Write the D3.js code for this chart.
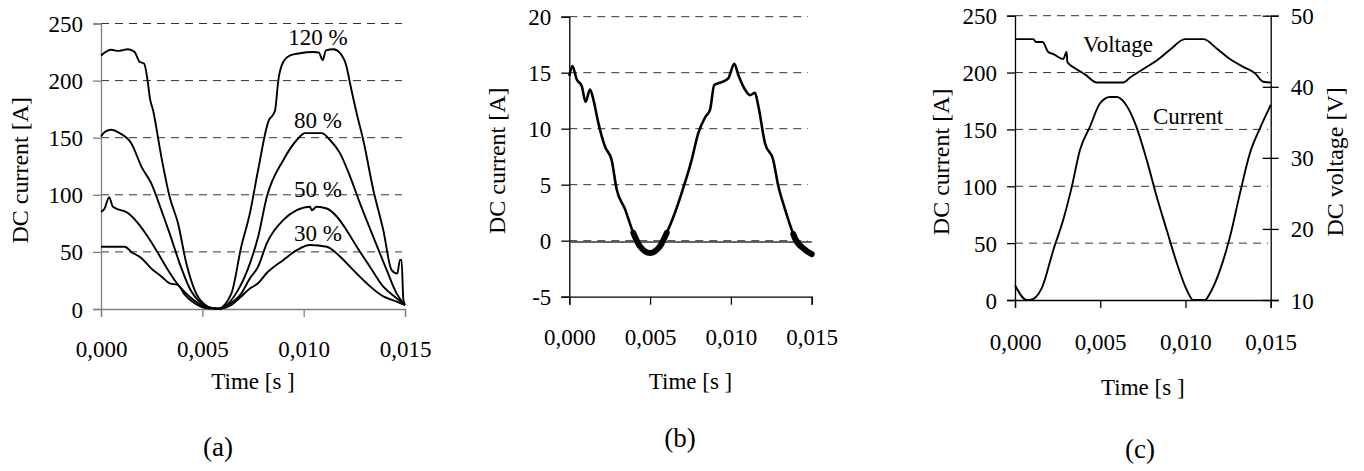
<!DOCTYPE html>
<html>
<head>
<meta charset="utf-8">
<script src="https://cdn.jsdelivr.net/npm/d3@7"></script>
<style>
  body { margin: 0; background: #fff; }
  svg { display: block; }
  text { font-family: "Liberation Serif", "Times New Roman", serif; fill: #000; }
</style>
</head>
<body>
<div id="chart"></div>
<script>
// 数据: [时间 s, 数值]
const xTicks = [0, 0.005, 0.010, 0.015];

// (a) 不同负载下的直流电流
const a120 = [[0,222],[0.00051,227],[0.00084,226],[0.00133,227.5],[0.00166,225],[0.0019,216.5],[0.00212,215],[0.00232,197.5],[0.0024,186],[0.00257,174],[0.00298,133],[0.00339,98],[0.0038,75],[0.00421,40],[0.00462,16.5],[0.00528,2],[0.0056,0.5],[0.00575,0],
  [0.00643,13.5],[0.00692,54.5],[0.00735,84],[0.00775,121.5],[0.0083,166],[0.00845,169],[0.00859,174],[0.00875,200.5],[0.009,216.5],[0.00933,222],[0.00982,224],[0.01048,225],[0.01075,224.5],[0.01094,218],[0.0111,226.5],[0.01147,227.5],[0.0118,224],[0.01212,212],[0.01229,197.5],[0.01262,171],[0.01294,148],[0.01344,104],[0.01393,69],[0.01434,34],[0.01462,31],[0.01475,43],[0.01483,43],[0.01492,8],[0.015,3.5]];
const a80 = [[0,151],[0.00018,155],[0.00051,157],[0.00092,154],[0.0015,145],[0.002,124.5],[0.00248,110],[0.00298,86.5],[0.00339,66],[0.00388,40],[0.00438,18],[0.00495,5],[0.00553,0.5],[0.00575,0],
  [0.0061,2],[0.00676,16.5],[0.00735,40],[0.00775,63],[0.00818,98],[0.009,130.5],[0.00966,148],[0.01007,154],[0.01089,154],[0.0113,148],[0.01179,136.5],[0.01229,116],[0.01278,92.5],[0.01344,63],[0.0141,34],[0.01459,13.5],[0.015,3.5]];
const a50 = [[0,85],[0.00018,88],[0.0004,98],[0.00059,89.5],[0.00133,84],[0.00183,75],[0.00232,63],[0.00281,49],[0.00331,34],[0.00388,19.5],[0.00446,9.5],[0.00512,2],[0.00569,0.5],[0.00585,0],
  [0.0061,2],[0.00692,13.5],[0.00735,27],[0.00775,37],[0.00818,57.5],[0.009,78],[0.00966,86.5],[0.01031,89.5],[0.0104,86.5],[0.01064,89.5],[0.01114,88],[0.01163,81],[0.01212,69],[0.01262,54.5],[0.01327,37],[0.01393,19.5],[0.01459,9.5],[0.015,3.5]];
const a30 = [[0,54.5],[0.00117,54.5],[0.0015,50],[0.002,44.5],[0.00248,35.5],[0.00298,28.5],[0.00339,22.5],[0.0038,21],[0.00413,12.5],[0.00462,5],[0.00528,0.5],[0.00594,0.5],
  [0.00643,3.5],[0.00692,11],[0.00735,18],[0.00775,22.5],[0.00818,31.5],[0.009,43],[0.00966,51.5],[0.01031,56],[0.01114,54.5],[0.01179,46],[0.01245,34],[0.01311,22.5],[0.01393,11],[0.01459,6.5],[0.015,3.5]];
const aLabels = ["120 %", "80 %", "50 %", "30 %"];
const aLabelY = [231, 158.5, 98, 59.5];
const aTicksY = [0, 50, 100, 150, 200, 250];

// (b) 空载电流
const bCurrent = [[0,14.7],[0.00019,15.6],[0.00046,14.4],[0.00077,13.8],[0.00101,12.4],[0.00128,13.5],[0.00149,12.6],[0.0018,10.5],[0.00221,8.4],[0.00262,7.2],[0.00293,4.6],[0.00345,2.8],[0.00396,0.7],[0.00437,-0.5],[0.005,-1.1],[0.00561,-0.5],[0.00603,0.7],[0.00654,2.5],[0.00716,5.2],[0.00757,7.2],[0.00798,9.6],[0.0084,11],[0.00871,11.7],[0.00897,13.9],[0.00932,14.1],[0.00984,14.5],[0.01021,15.8],[0.01046,14.8],[0.01087,13.5],[0.01118,13],[0.01149,13.2],[0.0117,12],[0.01211,8.7],[0.01262,7.2],[0.01293,4.9],[0.01335,2.8],[0.01386,0.6],[0.01397,0.2],[0.01459,-0.8],[0.015,-1.2]];
const bBase = [[0,-0.12],[0.015,-0.12]];
const bTicksY = [-5, 0, 5, 10, 15, 20];

// (c) 电流与电压
const cCurrent = [[0,13],[0.00069,0],[0.00088,0],[0.00157,10.5],[0.00225,44],[0.00283,70.5],[0.00333,99.5],[0.00381,132],[0.0044,152.5],[0.00499,173],[0.00557,178.5],[0.00597,178.5],[0.00645,173],[0.00704,155.5],[0.00773,123],[0.00831,91],[0.0089,61.5],[0.00949,32.5],[0.01007,9],[0.01046,0],[0.01115,0],[0.01144,6],[0.01203,26.5],[0.01261,55.5],[0.0132,94],[0.01378,129],[0.01437,151],[0.01486,167],[0.015,171.5]];
const cVoltage = [[0,46.7],[0.00107,46.7],[0.00123,46.3],[0.00162,46.3],[0.00195,44.9],[0.00225,44.6],[0.00283,43.9],[0.00303,44.9],[0.00307,43.5],[0.00352,42.6],[0.0041,41.75],[0.00479,40.6],[0.00635,40.6],[0.00675,41.3],[0.00753,42.5],[0.00831,43.7],[0.00909,45.2],[0.00997,46.7],[0.01105,46.7],[0.01183,45.4],[0.01261,43.9],[0.01339,42.8],[0.01408,41.9],[0.01457,40.7],[0.015,40.6]];
const cTicksY = [0, 50, 100, 150, 200, 250];
const cTicksV = [10, 20, 30, 40, 50];

const fmtT = t => d3.format(".3f")(t).replace(".", ",");
const fmtY = v => String(v);   // 保留普通连字符 "-5"
const FS = 23;
const FONT = '"Liberation Serif", "Times New Roman", serif';

const svg = d3.select('#chart').append('svg')
    .attr('width', 1364).attr('height', 471);

// 通用坐标面板
function panel(opt) {
    const x = d3.scaleLinear().domain([0, 0.015]).range([opt.left, opt.right]);
    const y = d3.scaleLinear().domain(opt.yDomain).range([opt.bottom, opt.top]);
    const g = svg.append('g');

    // 虚线网格
    g.selectAll('line.grid')
        .data(opt.yTicks.filter(v => v !== opt.yDomain[0]))
        .join('line')
        .attr('x1', opt.left).attr('x2', opt.gridEnd)
        .attr('y1', d => y(d)).attr('y2', d => y(d))
        .attr('stroke', '#333').attr('stroke-width', 1)
        .attr('stroke-dasharray', '8,6');

    // 左轴
    const yAxis = g.append('g')
        .attr('transform', `translate(${opt.left},0)`)
        .call(d3.axisLeft(y).tickValues(opt.yTicks).tickSize(8).tickPadding(10).tickFormat(fmtY));
    yAxis.selectAll('text').attr('dy', '0.35em');

    // 底轴
    const xAxis = g.append('g')
        .attr('transform', `translate(0,${opt.bottom})`)
        .call(d3.axisBottom(x).tickValues(xTicks).tickSize(8).tickPadding(opt.xPad).tickFormat(fmtT));
    xAxis.selectAll('text').attr('dy', '0.71em');

    [yAxis, xAxis].forEach(a => {
        a.attr('font-family', FONT).attr('font-size', FS);
        a.selectAll('text').style('font-family', FONT).style('font-size', FS + 'px');
        a.select('.domain').attr('stroke', opt.axisColor).attr('stroke-width', 1.3);
        a.selectAll('.tick line').attr('stroke', opt.axisColor).attr('stroke-width', 1.3);
    });

    // 坐标标题
    g.append('text')
        .attr('transform', `translate(${opt.yLabelX},${(opt.top + opt.bottom) / 2 + 4}) rotate(-90)`)
        .attr('text-anchor', 'middle').attr('dominant-baseline', 'central')
        .style('font-size', '24px')
        .text('DC current [A]');
    g.append('text')
        .attr('x', (opt.left + opt.right) / 2).attr('y', opt.timeY)
        .attr('text-anchor', 'middle')
        .style('font-size', FS + 'px')
        .text('Time [s ]');
    g.append('text')
        .attr('x', opt.capX).attr('y', opt.capY)
        .attr('text-anchor', 'middle')
        .style('font-size', '27px')
        .text(opt.caption);

    return {g, x, y};
}

const line = (x, y) => d3.line().x(d => x(d[0])).y(d => y(d[1])).curve(d3.curveMonotoneX);

// ---------- (a) ----------
{
    const {g, x, y} = panel({
        left: 101, right: 405, top: 23.5, bottom: 309, gridEnd: 402, xPad: 24,
        yDomain: [0, 250], yTicks: aTicksY, axisColor: '#808080',
        yLabelX: 20, timeY: 389, capX: 218, capY: 456, caption: '(a)'
    });
    g.selectAll('path.curve')
        .data([a120, a80, a50, a30])
        .join('path')
        .attr('class', 'curve')
        .attr('d', line(x, y))
        .attr('fill', 'none').attr('stroke', '#000').attr('stroke-width', 1.9);
    g.selectAll('text.lab')
        .data(aLabels)
        .join('text')
        .attr('class', 'lab')
        .attr('x', x(0.0107)).attr('y', (d, i) => y(aLabelY[i]))
        .attr('text-anchor', 'middle')
        .style('font-size', FS + 'px')
        .text(d => d);
}

// ---------- (b) ----------
{
    const {g, x, y} = panel({
        left: 569.3, right: 811.7, top: 16.7, bottom: 296.7, gridEnd: 808, xPad: 24,
        yDomain: [-5, 20], yTicks: bTicksY, axisColor: '#000',
        yLabelX: 497, timeY: 389, capX: 680, capY: 447, caption: '(b)'
    });
    g.append('path')
        .attr('d', line(x, y)(bBase))
        .attr('fill', 'none').attr('stroke', '#333').attr('stroke-width', 1.5);
    g.append('path')
        .attr('d', line(x, y)(bCurrent))
        .attr('fill', 'none').attr('stroke', '#000').attr('stroke-width', 2.6);
    // 零点附近的粗线段
    const low = [bCurrent.filter(d => d[0] < 0.008 && d[1] < 0.8), bCurrent.filter(d => d[0] > 0.013 && d[1] < 0.8)];
    g.selectAll('path.thick')
        .data(low)
        .join('path')
        .attr('class', 'thick')
        .attr('d', line(x, y))
        .attr('fill', 'none').attr('stroke', '#000').attr('stroke-width', 6)
        .attr('stroke-linecap', 'round');
}

// ---------- (c) ----------
{
    const {g, x, y} = panel({
        left: 1015, right: 1270.7, top: 15.7, bottom: 300, gridEnd: 1268, xPad: 26,
        yDomain: [0, 250], yTicks: cTicksY, axisColor: '#000',
        yLabelX: 941, timeY: 395, capX: 1140, capY: 458, caption: '(c)'
    });
    const yv = d3.scaleLinear().domain([10, 50]).range([300, 15.7]);
    const rAxis = g.append('g')
        .attr('transform', 'translate(1270.7,0)')
        .call(d3.axisRight(yv).tickValues(cTicksV).tickSize(8).tickPadding(12).tickFormat(fmtY));
    rAxis.attr('font-family', FONT).attr('font-size', FS);
    rAxis.select('.domain').attr('stroke-width', 1.3);
    rAxis.selectAll('.tick line').attr('x1', -8).attr('stroke-width', 1.3);
    rAxis.selectAll('text').style('font-family', FONT).style('font-size', FS + 'px').attr('dy', '0.35em');

    g.append('text')
        .attr('transform', `translate(1335,${(15.7 + 300) / 2 + 4}) rotate(-90)`)
        .attr('text-anchor', 'middle').attr('dominant-baseline', 'central')
        .style('font-size', '24px')
        .text('DC voltage [V]');

    g.append('path')
        .attr('d', line(x, y)(cCurrent))
        .attr('fill', 'none').attr('stroke', '#000').attr('stroke-width', 1.9);
    g.append('path')
        .attr('d', line(x, yv)(cVoltage))
        .attr('fill', 'none').attr('stroke', '#000').attr('stroke-width', 1.9);

    g.append('text').attr('x', x(0.00604)).attr('y', y(218))
        .attr('text-anchor', 'middle').style('font-size', FS + 'px').text('Voltage');
    g.append('text').attr('x', x(0.01015)).attr('y', y(155))
        .attr('text-anchor', 'middle').style('font-size', FS + 'px').text('Current');
}
</script>
</body>
</html>
